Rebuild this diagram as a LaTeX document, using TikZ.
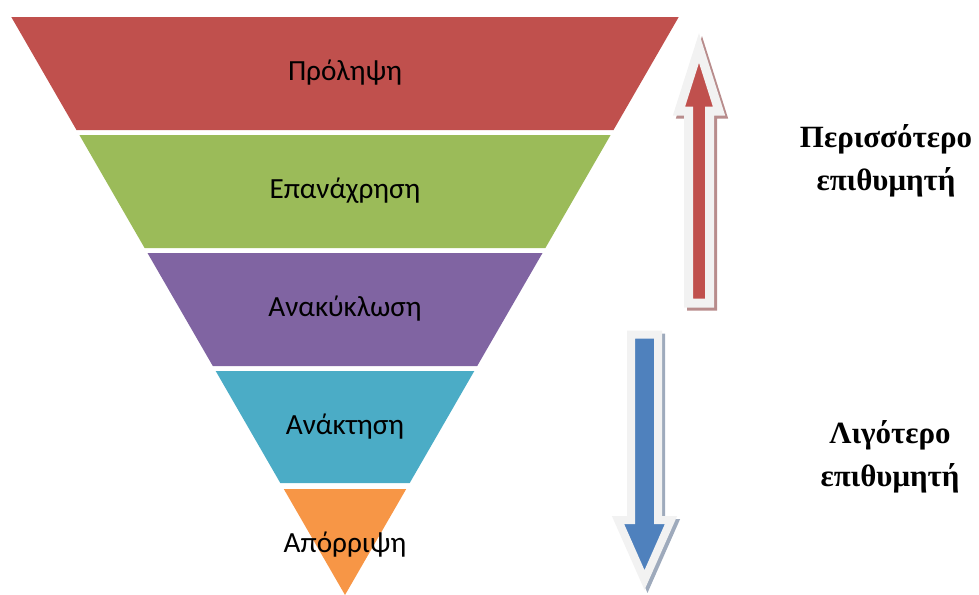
\documentclass[tikz,border=0pt]{standalone}
\usepackage{fontspec}
\setmainfont{Carlito}
\newfontfamily\greekserif{Liberation Serif}
\usepackage{xcolor}
\usepackage{tikz}
\usetikzlibrary{positioning}
\definecolor{BandRed}{RGB}{192, 80, 77}
\definecolor{BandGreen}{RGB}{155, 187, 89}
\definecolor{BandPurple}{RGB}{128, 100, 162}
\definecolor{BandTeal}{RGB}{75, 172, 198}
\definecolor{BandOrange}{RGB}{247, 150, 70}
\definecolor{ArrowBlue}{RGB}{79, 129, 189}
\definecolor{ArrowRim}{RGB}{242, 242, 242}
\definecolor{ShadowRed}{RGB}{184, 140, 140}
\definecolor{ShadowBlue}{RGB}{158, 170, 188}

\begin{document}
\begin{tikzpicture}[x=0.025cm,y=-0.025cm]
    \useasboundingbox (0,0) rectangle (979,594);
    % funnel bands
    \fill[BandRed] (11.3,17) -- (678.7,17) -- (613.5,130) -- (76.5,130) -- cycle;
    \fill[BandGreen] (79.4,135) -- (610.6,135) -- (545.4,248) -- (144.6,248) -- cycle;
    \fill[BandPurple] (147.5,253) -- (542.5,253) -- (477.2,366) -- (212.8,366) -- cycle;
    \fill[BandTeal] (215.7,371) -- (474.3,371) -- (409.7,483) -- (280.3,483) -- cycle;
    \fill[BandOrange] (283.8,489) -- (406.2,489) -- (345,595) -- cycle;
    \node[font=\fontsize{20.8}{24}\selectfont] (prolipsi) at (345,73) {Πρόληψη};
    \node[font=\fontsize{20.8}{24}\selectfont] (epanachrisi) at (345,191) {Επανάχρηση};
    \node[font=\fontsize{20.8}{24}\selectfont] (anakyklosi) at (345,309) {Ανακύκλωση};
    \node[font=\fontsize{20.8}{24}\selectfont] (anaktisi) at (345,427) {Ανάκτηση};
    \node[font=\fontsize{20.8}{24}\selectfont] (aporripsi) at (345,545) {Απόρριψη};
    % block arrows
    \fill[ShadowRed,line width=9*0.025cm,draw=ShadowRed] (691.5,306) -- (691.5,114) -- (682,114) -- (702,51) -- (722,114) -- (712.5,114) -- (712.5,306) -- cycle;
    \draw[fill=BandRed,draw=ArrowRim,line width=9*0.025cm] (688.5,303) -- (688.5,111) -- (679,111) -- (699,48) -- (719,111) -- (709.5,111) -- (709.5,303) -- cycle;
    \fill[ShadowBlue,line width=8*0.025cm,draw=ShadowBlue] (634,337.5) -- (634,523) -- (621,523) -- (647.5,583) -- (674,523) -- (661,523) -- (661,337.5) -- cycle;
    \draw[fill=ArrowBlue,draw=ArrowRim,line width=8*0.025cm] (631,334.5) -- (631,520) -- (618,520) -- (644.5,580) -- (671,520) -- (658,520) -- (658,334.5) -- cycle;
    % side labels
    \node[font=\greekserif\bfseries\fontsize{22}{30.5}\selectfont,align=center] (more) at (886,161) {Περισσότερο\\επιθυμητή};
    \node[font=\greekserif\bfseries\fontsize{22}{30.5}\selectfont,align=center] (less) at (890,457) {Λιγότερο\\επιθυμητή};
  \end{tikzpicture}
\end{document}
